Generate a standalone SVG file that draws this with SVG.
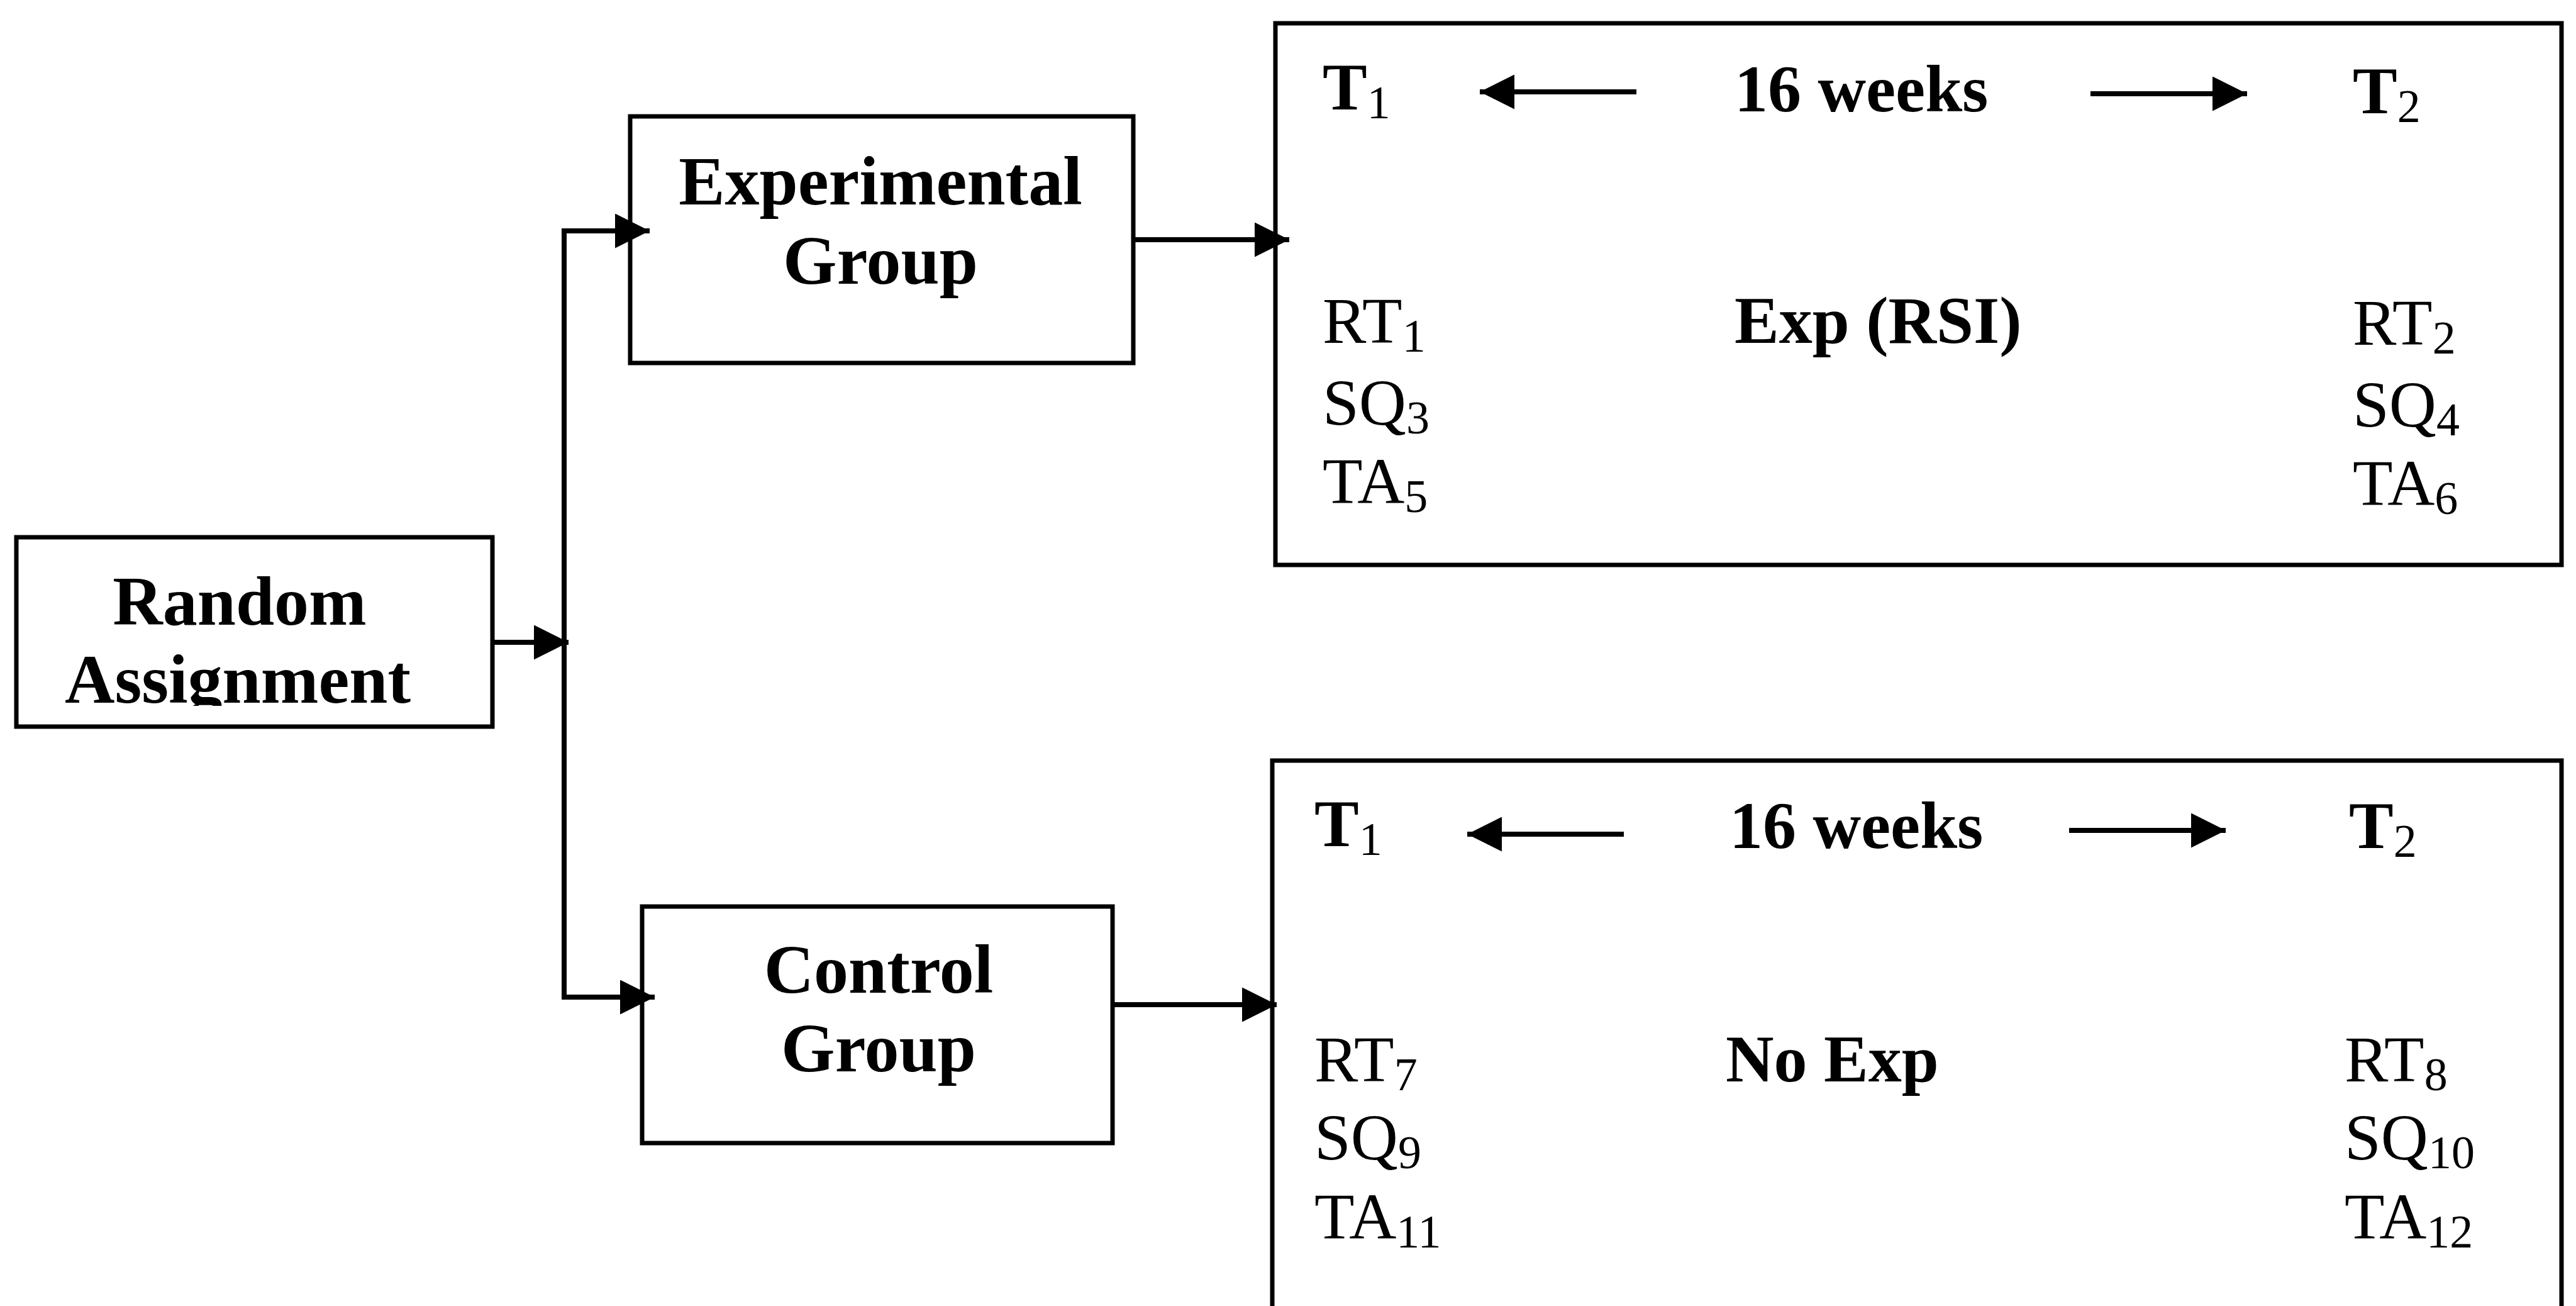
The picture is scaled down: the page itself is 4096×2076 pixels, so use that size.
<svg xmlns="http://www.w3.org/2000/svg" width="4096" height="2076" viewBox="0 0 4096 2076">
<style>
.box{fill:none;stroke:#000;stroke-width:7}
.ln{fill:none;stroke:#000;stroke-width:8}
.b{font-family:"Liberation Serif","Times New Roman",serif;font-weight:bold;font-size:110px;fill:#000}
.h{font-family:"Liberation Serif","Times New Roman",serif;font-weight:bold;font-size:106px;fill:#000}
.r{font-family:"Liberation Serif","Times New Roman",serif;font-size:104px;fill:#000}
.s{font-size:74px;font-weight:normal}
</style>
<defs>
<marker id="ah" viewBox="0 0 10 10" refX="10" refY="5" markerWidth="55" markerHeight="55" markerUnits="userSpaceOnUse" orient="auto">
<path d="M0,0 L10,5 L0,10 z" fill="#000"/>
</marker>
<clipPath id="clipRA"><rect x="0" y="0" width="900" height="1122"/></clipPath>
</defs>
<rect width="4096" height="2076" fill="#fff"/>

<g id="random">
<rect class="box" x="26" y="854" width="757" height="301"/>
<text class="b" x="381" y="993" text-anchor="middle">Random</text>
<text class="b" x="378" y="1117" text-anchor="middle" clip-path="url(#clipRA)">Assignment</text>
</g>

<g id="experimental">
<rect class="box" x="1002" y="185" width="800" height="392"/>
<text class="b" x="1400" y="325" text-anchor="middle">Experimental</text>
<text class="b" x="1400" y="451" text-anchor="middle">Group</text>
</g>

<g id="control">
<rect class="box" x="1021" y="1441" width="748" height="376"/>
<text class="b" x="1397" y="1578" text-anchor="middle">Control</text>
<text class="b" x="1397" y="1703" text-anchor="middle">Group</text>
</g>

<g id="expbox">
<rect class="box" x="2028" y="37" width="2045" height="861"/>
<text class="h" x="2103" y="174">T<tspan class="s" dy="14">1</tspan></text>
<text class="h" x="2758" y="177">16 weeks</text>
<text class="h" x="3741" y="180">T<tspan class="s" dy="14">2</tspan></text>
<text class="r" x="2103" y="545">RT<tspan class="s" dy="14">1</tspan></text>
<text class="r" x="2103" y="675">SQ<tspan class="s" dy="14">3</tspan></text>
<text class="r" x="2103" y="800">TA<tspan class="s" dy="14">5</tspan></text>
<text class="h" x="2758" y="545">Exp (RSI)</text>
<text class="r" x="3741" y="548">RT<tspan class="s" dy="14">2</tspan></text>
<text class="r" x="3741" y="678">SQ<tspan class="s" dy="14">4</tspan></text>
<text class="r" x="3741" y="803">TA<tspan class="s" dy="14">6</tspan></text>
</g>

<g id="ctrlbox">
<rect class="box" x="2023" y="1209" width="2050" height="900"/>
<text class="h" x="2090" y="1345">T<tspan class="s" dy="14">1</tspan></text>
<text class="h" x="2750" y="1348">16 weeks</text>
<text class="h" x="3735" y="1348">T<tspan class="s" dy="14">2</tspan></text>
<text class="r" x="2090" y="1719">RT<tspan class="s" dy="14">7</tspan></text>
<text class="r" x="2090" y="1843">SQ<tspan class="s" dy="14">9</tspan></text>
<text class="r" x="2090" y="1969">TA<tspan class="s" dy="14">11</tspan></text>
<text class="h" x="2744" y="1719">No Exp</text>
<text class="r" x="3728" y="1719">RT<tspan class="s" dy="14">8</tspan></text>
<text class="r" x="3728" y="1843">SQ<tspan class="s" dy="14">10</tspan></text>
<text class="r" x="3728" y="1969">TA<tspan class="s" dy="14">12</tspan></text>
</g>

<g id="connectors">
<path class="ln" d="M783,1021 H904" marker-end="url(#ah)"/>
<path class="ln" d="M897,1021 V367 H1033" marker-end="url(#ah)"/>
<path class="ln" d="M897,1021 V1585 H1041" marker-end="url(#ah)"/>
<path class="ln" d="M1802,381 H2050" marker-end="url(#ah)"/>
<path class="ln" d="M1769,1597 H2030" marker-end="url(#ah)"/>
<path class="ln" d="M2602,146 H2353" marker-end="url(#ah)"/>
<path class="ln" d="M3324,149 H3573" marker-end="url(#ah)"/>
<path class="ln" d="M2582,1326 H2333" marker-end="url(#ah)"/>
<path class="ln" d="M3290,1320 H3539" marker-end="url(#ah)"/>
</g>
</svg>
